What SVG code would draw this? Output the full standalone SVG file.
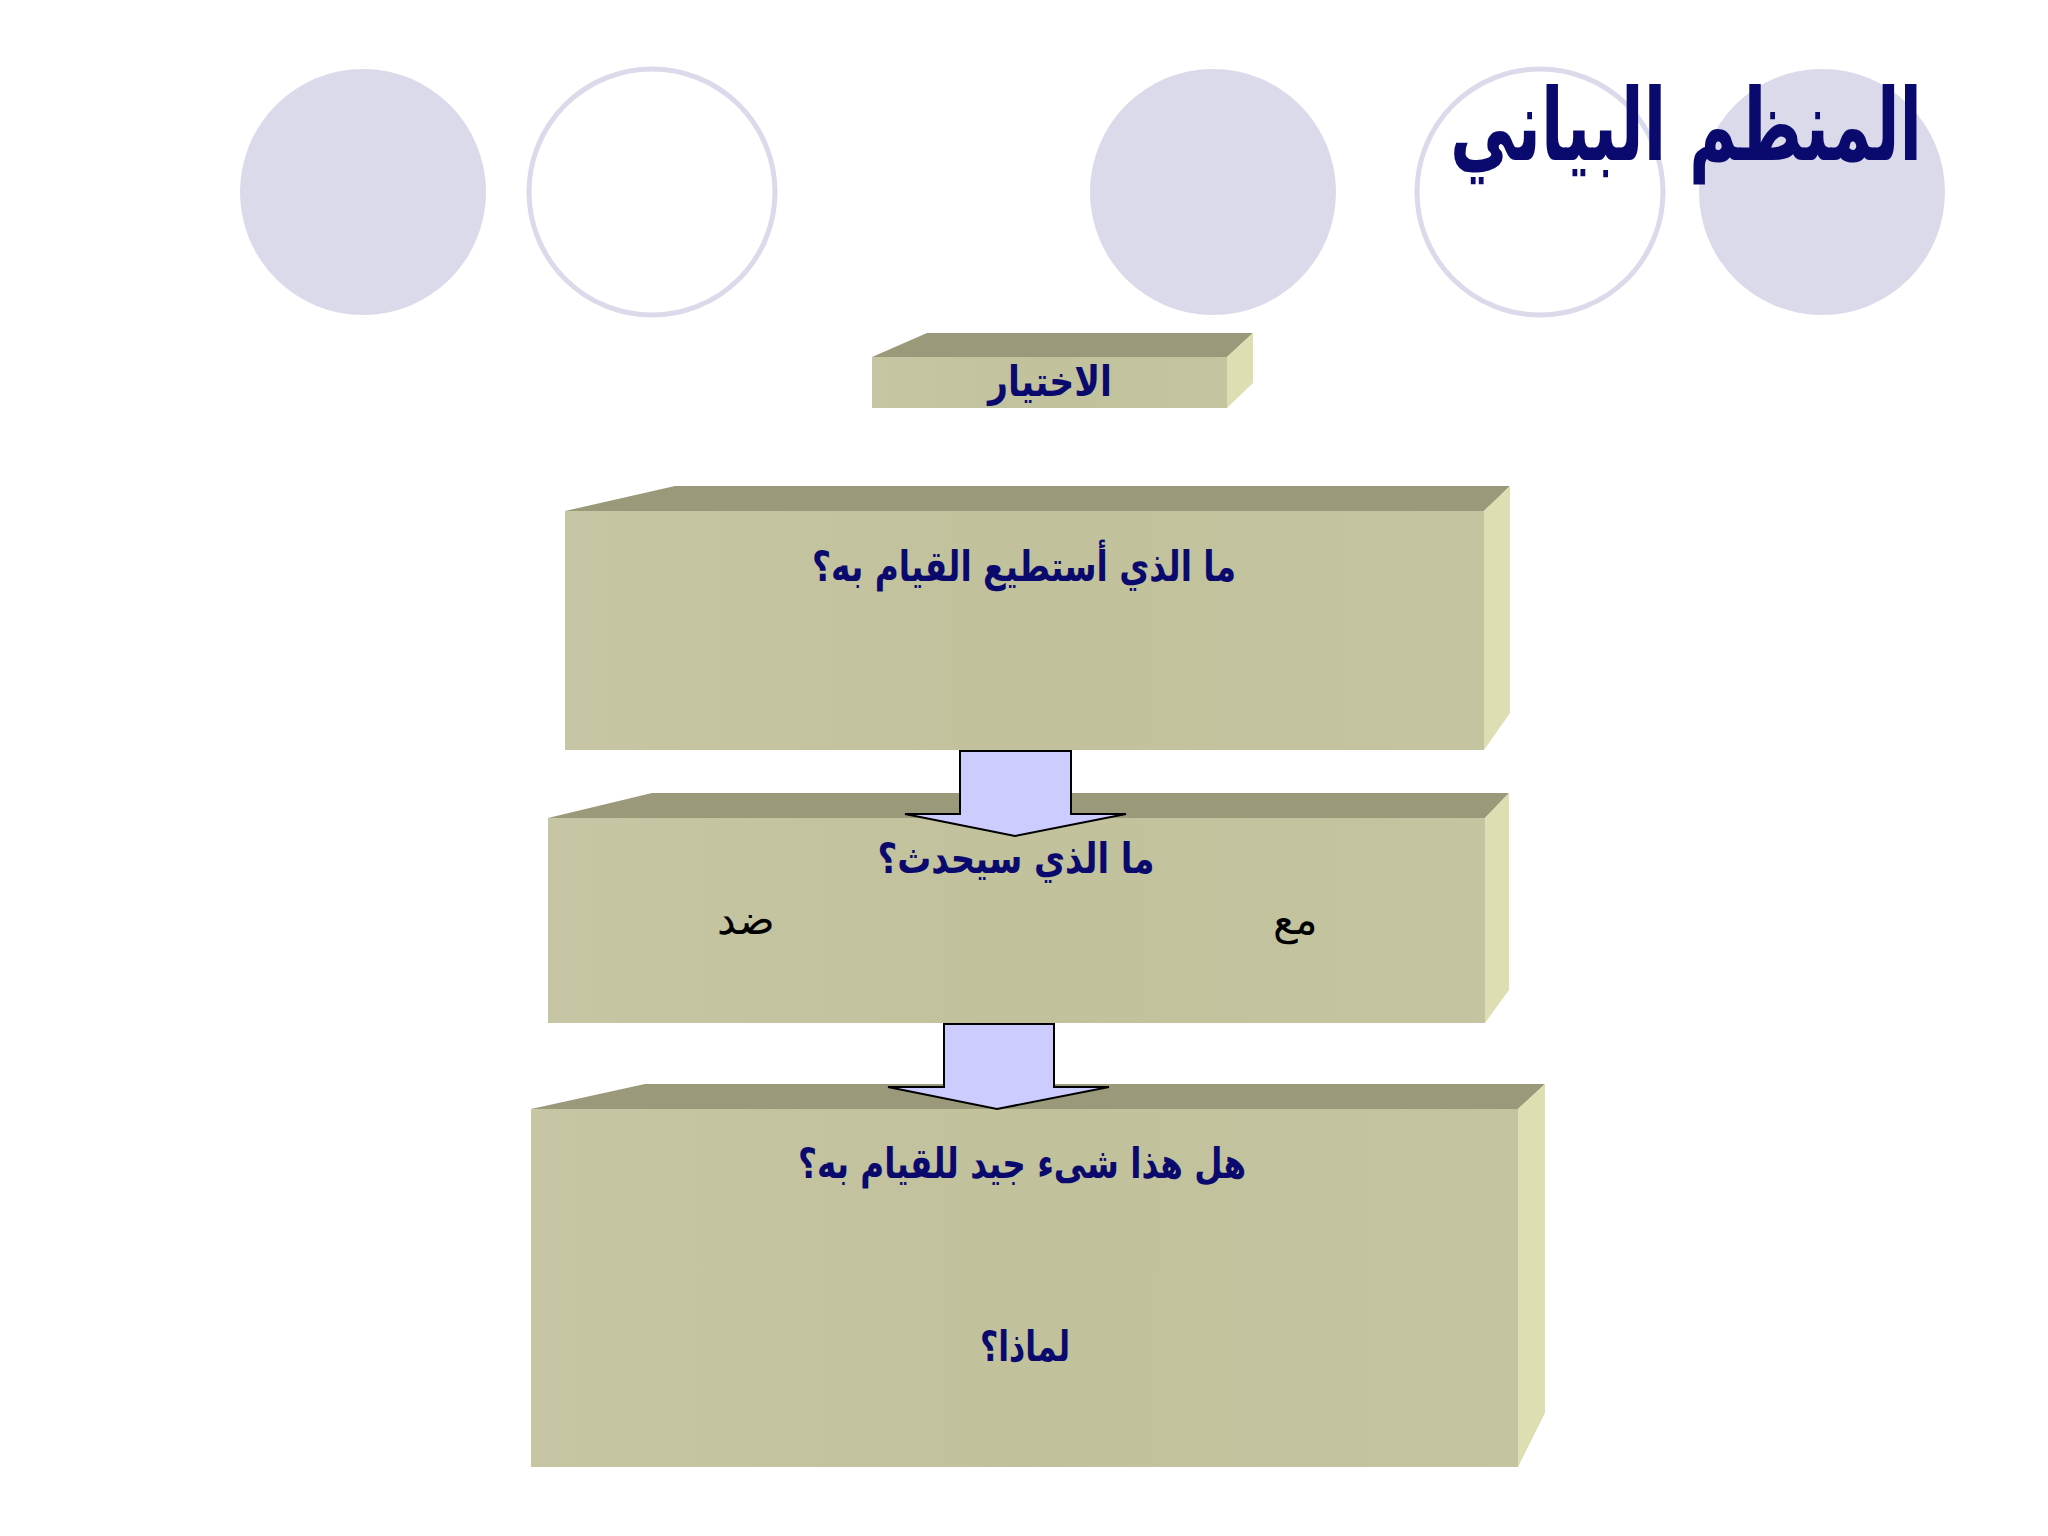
<svg xmlns="http://www.w3.org/2000/svg" width="2048" height="1536" viewBox="0 0 2048 1536">
<defs>
<style>
.dot{fill:#dadaeb}
.ring{fill:#ffffff;stroke:#dadaeb;stroke-width:5}
.front{fill:#c3c39f}
.top{fill:#9a9a7a}
.side{fill:#dedeb3}
.ar{font-family:"DejaVu Sans",sans-serif;font-weight:bold;fill:#0a0a6e;text-anchor:middle}
.plain{font-family:"DejaVu Serif","Liberation Serif",serif;fill:#000000;text-anchor:middle}
.arrow{fill:#ccccff;stroke:#000000;stroke-width:2}
</style>
<linearGradient id="fg" x1="0" y1="0" x2="1" y2="0">
<stop offset="0" stop-color="#c6c6a4"/>
<stop offset="0.5" stop-color="#c1c19c"/>
<stop offset="1" stop-color="#c4c4a0"/>
</linearGradient>
</defs>
<rect width="2048" height="1536" fill="#ffffff"/>
<g id="decor">
<circle class="dot" cx="363" cy="192" r="123"/>
<circle class="ring" cx="652" cy="192" r="123"/>
<circle class="dot" cx="1213" cy="192" r="123"/>
<circle class="ring" cx="1540" cy="192" r="123"/>
<circle class="dot" cx="1822" cy="192" r="123"/>
</g>
<g id="title">
<text class="ar" x="1686" y="160" font-size="100" textLength="472" lengthAdjust="spacingAndGlyphs">المنظم البياني</text>
</g>
<g id="node-choice">
<polygon class="top" points="872,357 927,333 1253,333 1227,357"/>
<polygon class="side" points="1227,357 1253,333 1253,383 1227,408"/>
<rect x="872" y="357" width="355" height="51" fill="url(#fg)"/>
<text class="ar" x="1050" y="396" font-size="42" textLength="124" lengthAdjust="spacingAndGlyphs">الاختيار</text>
</g>
<g id="node-can">
<polygon class="top" points="565,511 675,486 1510,486 1484,511"/>
<polygon class="side" points="1484,511 1510,486 1510,713 1484,750"/>
<rect x="565" y="511" width="919" height="239" fill="url(#fg)"/>
<text class="ar" x="1024" y="581" font-size="42" textLength="424" lengthAdjust="spacingAndGlyphs">ما الذي أستطيع القيام به؟</text>
</g>
<g id="node-happen">
<polygon class="top" points="548,818 652,793 1509,793 1485,818"/>
<polygon class="side" points="1485,818 1509,793 1509,990 1485,1023"/>
<rect x="548" y="818" width="937" height="205" fill="url(#fg)"/>
<text class="ar" x="1016" y="873" font-size="42" textLength="277" lengthAdjust="spacingAndGlyphs">ما الذي سيحدث؟</text>
<text class="plain" x="746" y="934" font-size="42">ضد</text>
<text class="plain" x="1295" y="934" font-size="42">مع</text>
</g>
<g id="node-good">
<polygon class="top" points="531,1109 645,1084 1545,1084 1518,1109"/>
<polygon class="side" points="1518,1109 1545,1084 1545,1413 1518,1467"/>
<rect x="531" y="1109" width="987" height="358" fill="url(#fg)"/>
<text class="ar" x="1022" y="1178" font-size="42" textLength="448" lengthAdjust="spacingAndGlyphs">هل هذا شىء جيد للقيام به؟</text>
<text class="ar" x="1025" y="1361" font-size="42" textLength="90" lengthAdjust="spacingAndGlyphs">لماذا؟</text>
</g>
<g id="connectors">
<polygon class="arrow" points="960,751 1071,751 1071,814 1126,814 1015,836 905,814 960,814"/>
<polygon class="arrow" points="944,1024 1054,1024 1054,1087 1109,1087 997,1109 888,1087 944,1087"/>
</g>
</svg>
